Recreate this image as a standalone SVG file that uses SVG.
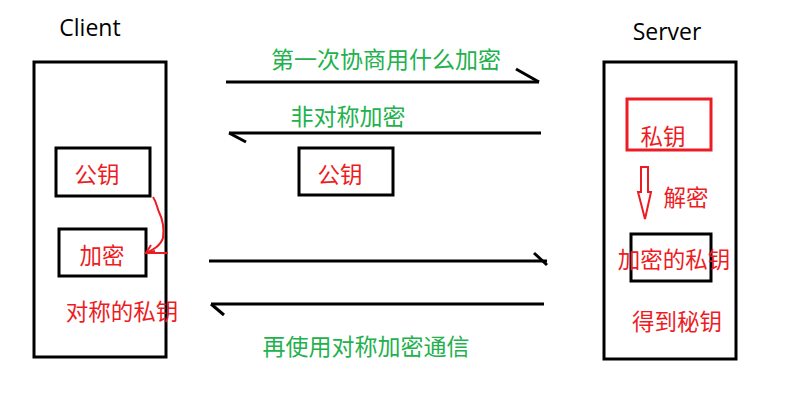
<svg xmlns="http://www.w3.org/2000/svg" width="792" height="400" viewBox="0 0 792 400">
<style>
.box{fill:none;stroke:#000;stroke-width:3}
.rbox{fill:none;stroke:#ed1c24;stroke-width:3}
.line{fill:none;stroke:#000;stroke-width:3}
.red{fill:#ed1c24;font-family:"Noto Sans CJK SC","Noto Sans",sans-serif;font-size:22.5px;text-anchor:middle}
.green{fill:#22b14c;font-family:"Noto Sans CJK SC","Noto Sans",sans-serif;font-size:23px;text-anchor:middle}
.lat{fill:#000;font-family:"Open Sans","Noto Sans",sans-serif;font-size:23px;text-anchor:middle}
.rl{fill:none;stroke:#ed1c24;stroke-width:2}
</style>
<rect width="792" height="400" fill="#fff"/>
<g id="client">
<rect class="box" x="34" y="62" width="132" height="295"/>
<text class="lat" x="90" y="36">Client</text>
</g>
<g id="client-pubkey">
<rect class="box" x="56" y="148" width="94" height="48"/>
<text class="red" x="97" y="183">公钥</text>
</g>
<g id="client-encrypt">
<rect class="box" x="59" y="229" width="87" height="47"/>
<text class="red" x="102" y="264">加密</text>
</g>
<g id="client-symkey">
<text class="red" x="122" y="320">对称的私钥</text>
</g>
<g id="mid-pubkey">
<rect class="box" x="299" y="148" width="94" height="47"/>
<text class="red" x="340" y="183">公钥</text>
</g>
<g id="server">
<rect class="box" x="604" y="62" width="132" height="297"/>
<text class="lat" x="667" y="40">Server</text>
</g>
<g id="server-privkey">
<rect class="rbox" x="627" y="99" width="84" height="51"/>
<text class="red" x="663" y="145">私钥</text>
</g>
<g id="server-encprivkey">
<rect class="box" x="631" y="234" width="80" height="47"/>
<text class="red" x="674" y="268">加密的私钥</text>
</g>
<g id="server-gotkey">
<text class="red" x="677" y="330">得到秘钥</text>
</g>
<g id="connectors">
<line class="line" x1="226" y1="82" x2="539" y2="82"/>
<line class="line" x1="516" y1="69" x2="539" y2="82"/>
<line class="line" x1="541" y1="133" x2="229" y2="133"/>
<line class="line" x1="229" y1="133" x2="246" y2="142"/>
<line class="line" x1="209" y1="261" x2="547" y2="261"/>
<line class="line" x1="534" y1="253" x2="547" y2="265"/>
<line class="line" x1="544" y1="304" x2="211" y2="304"/>
<line class="line" x1="211" y1="304" x2="224" y2="315"/>
<path class="rl" d="M153,197 C157,203 157,208 159,212 C163,220 164,230 163,238 C160,247 152,250 146,253"/>
<path class="rl" d="M151,245 L146,253 L155,251 M146,253 L168,253"/>
<polygon points="641,167 648,167 648,192 651,192 645,219 638,192 641,192" fill="none" stroke="#ed1c24" stroke-width="2"/>
<text class="red" x="686" y="206">解密</text>
<text class="green" x="386" y="68">第一次协商用什么加密</text>
<text class="green" x="348" y="125">非对称加密</text>
<text class="green" x="366" y="355">再使用对称加密通信</text>
</g>
</svg>
